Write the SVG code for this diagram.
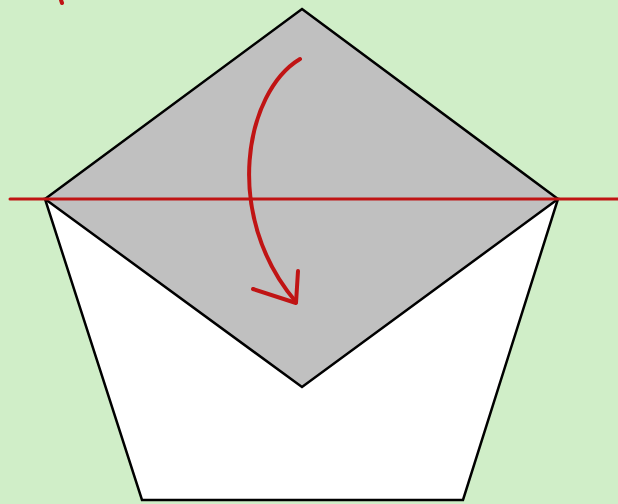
<svg xmlns="http://www.w3.org/2000/svg" width="618" height="504" viewBox="0 0 618 504">
<style>
.outline{stroke:#000;stroke-width:2.5;stroke-linejoin:miter}
.red{stroke:#c01414;fill:none;stroke-linecap:round;stroke-linejoin:round}
</style>
<rect width="618" height="504" fill="#d0eec8"/>
<g id="pentagon"><polygon class="outline" points="45,199 558,199 463,500 142,500" fill="#ffffff"/></g>
<g id="diamond"><polygon class="outline" points="302,9 558,199 302,387 45,199" fill="#c0c0c0"/></g>
<g id="connectors">
<line class="red" x1="10" y1="199" x2="618" y2="199" stroke-width="3"/>
<path class="red" d="M300,59 C245,92 222,215 296,302" stroke-width="4"/>
<path class="red" d="M253,289 L296,303 L298,271" stroke-width="4"/>
<path class="red" d="M61,0 L62,3" stroke-width="4"/>
</g>
</svg>
